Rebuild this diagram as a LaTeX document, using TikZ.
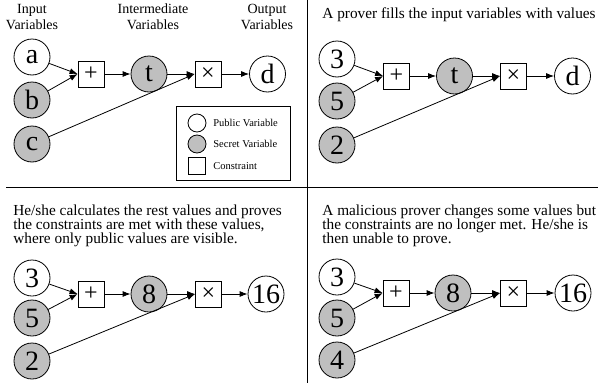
\documentclass[tikz,border=0pt]{standalone}
\usepackage{fontspec}
\setmainfont{Liberation Serif}
\usetikzlibrary{arrows.meta}

\begin{document}
\begin{tikzpicture}[x=1pt, y=-1pt, line width=0.8pt, >={Latex[length=8pt,width=6pt]},
    pub/.style={circle, draw, minimum size=36pt, inner sep=0pt, font=\fontsize{28}{28}\selectfont},
    sec/.style={pub, fill=black!25},
    con/.style={draw, minimum size=26pt, inner sep=0pt, font=\fontsize{24}{24}\selectfont},
    head/.style={anchor=north, align=center, inner sep=0pt, font=\fontsize{14}{16}\selectfont},
    note/.style={anchor=north west, align=left, inner sep=0pt, font=\fontsize{15.3}{14.4}\selectfont},
    key/.style={anchor=west, inner sep=0pt, font=\fontsize{10.5}{12}\selectfont}]

    \useasboundingbox (0,0) rectangle (600,383);

    % panel borders
    \draw (6,187) -- (598,187);
    \draw (307,0) -- (307,383);

    % column headings
    \node[head] (hin)  at (32,3.5)  {Input\\Variables};
    \node[head] (hmid) at (153,3.5) {Intermediate\\Variables};
    \node[head] (hout) at (267,3.5) {Output\\Variables};

    % circuit with variable names
    \node[pub] (a1)   at (32,57)    {a};
    \node[sec] (b1)   at (32,100)   {b};
    \node[sec] (c1)   at (32,144)   {c};
    \node[con] (add1) at (91,74)    {+};
    \node[sec] (t1)   at (149,74)   {t};
    \node[con] (mul1) at (208,74)   {×};
    \node[pub] (d1)   at (267.5,74) {d};

    \path[->]
        (a1) edge (add1.west)
        (b1) edge (add1.west)
        (c1) edge (mul1.west)
        (add1) edge (t1)
        (t1) edge (mul1)
        (mul1) edge (d1);

    % legend
    \draw (176,106) rectangle (290,180);
    \node[pub, minimum size=18pt] (kpub) at (197,123) {};
    \node[sec, minimum size=18pt] (ksec) at (197,144) {};
    \node[con, minimum size=17pt] (kcon) at (197,166) {};
    \node[key] at (213,123) {Public Variable};
    \node[key] at (213,144) {Secret Variable};
    \node[key] at (213,166) {Constraint};

    % inputs filled in
    \node[note, anchor=base west] (n2) at (322,18.5) {A prover fills the input variables with values};
    \node[pub] (a2)   at (337,59)    {3};
    \node[sec] (b2)   at (337,101)   {5};
    \node[sec] (c2)   at (337,145)   {2};
    \node[con] (add2) at (396.5,76)  {+};
    \node[sec] (t2)   at (454.5,76)  {t};
    \node[con] (mul2) at (513.5,76)  {×};
    \node[pub] (d2)   at (572.5,76)  {d};

    \path[->]
        (a2) edge (add2.west)
        (b2) edge (add2.west)
        (c2) edge (mul2.west)
        (add2) edge (t2)
        (t2) edge (mul2)
        (mul2) edge (d2);

    % all values computed
    \node[note] (n3) at (13,204) {He/she calculates the rest values and proves\\the constraints are met with these values,\\where only public values are visible.};
    \node[pub] (a3)   at (32,278)    {3};
    \node[sec] (b3)   at (32,318)    {5};
    \node[sec] (c3)   at (32,361)    {2};
    \node[con] (add3) at (91,294)    {+};
    \node[sec] (t3)   at (149,294)   {8};
    \node[con] (mul3) at (208.5,294) {×};
    \node[pub] (d3)   at (266,294)   {16};

    \path[->]
        (a3) edge (add3.west)
        (b3) edge (add3.west)
        (c3) edge (mul3.west)
        (add3) edge (t3)
        (t3) edge (mul3)
        (mul3) edge (d3);

    % a changed value
    \node[note] (n4) at (322,204) {A malicious prover changes some values but\\the constraints are no longer met. He/she is\\then unable to prove.};
    \node[pub] (a4)   at (337,277)   {3};
    \node[sec] (b4)   at (337,318)   {5};
    \node[sec] (c4)   at (337,360)   {4};
    \node[con] (add4) at (396,293)   {+};
    \node[sec] (t4)   at (453,293)   {8};
    \node[con] (mul4) at (513.5,293) {×};
    \node[pub] (d4)   at (573,293)   {16};

    \path[->]
        (a4) edge (add4.west)
        (b4) edge (add4.west)
        (c4) edge (mul4.west)
        (add4) edge (t4)
        (t4) edge (mul4)
        (mul4) edge (d4);

\end{tikzpicture}
\end{document}
